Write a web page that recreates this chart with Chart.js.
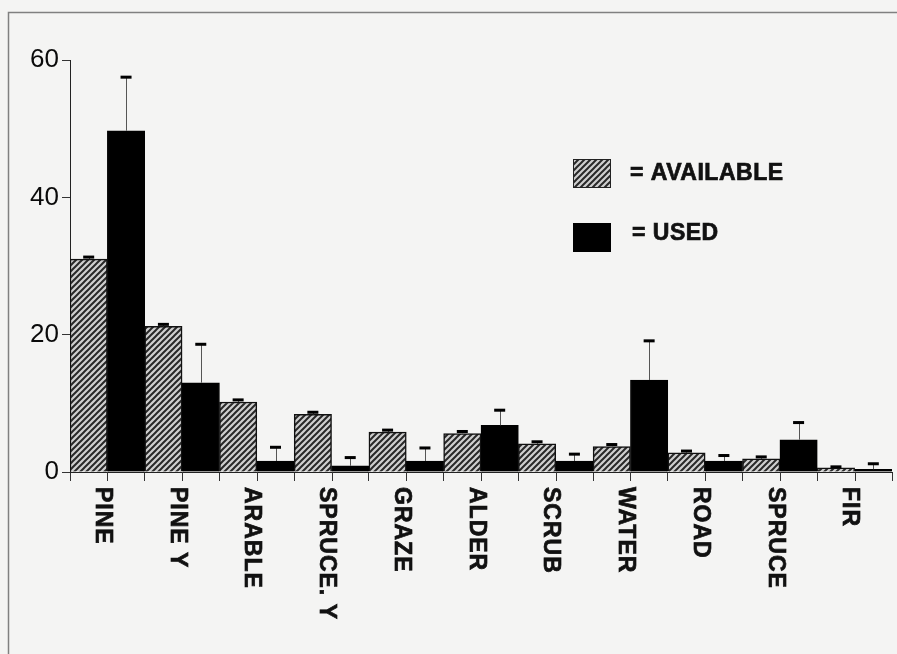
<!DOCTYPE html>
<html>
<head>
<meta charset="utf-8">
<script src="https://cdn.jsdelivr.net/npm/chart.js@4.4.1/dist/chart.umd.min.js"></script>
<style>
  body { margin: 0; background: #f4f4f3; }
  canvas { display: block; }
</style>
</head>
<body>
<canvas id="habitat-chart" width="897" height="654"></canvas>
<script>
// habitat categories and percentages
var categories = ['PINE', 'PINE Y', 'ARABLE', 'SPRUCE. Y', 'GRAZE', 'ALDER', 'SCRUB', 'WATER', 'ROAD', 'SPRUCE', 'FIR'];
var available = [31.0, 21.2, 10.2, 8.4, 5.8, 5.6, 4.1, 3.7, 2.8, 1.9, 0.6];
var availableErr = [0.3, 0.3, 0.3, 0.3, 0.3, 0.3, 0.3, 0.3, 0.25, 0.3, 0.15];
var used = [49.7, 13.0, 1.6, 0.9, 1.6, 6.8, 1.6, 13.4, 1.6, 4.7, 0.4];
var usedErr = [7.8, 5.6, 2.0, 1.2, 1.9, 2.2, 1.0, 5.7, 0.8, 2.5, 0.8];
var yMin = 0, yMax = 60, yStep = 20;

// diagonal hatch fill for the "available" bars
function makeHatch() {
  var c = document.createElement('canvas');
  c.width = 6; c.height = 6;
  var g = c.getContext('2d');
  g.fillStyle = '#cfcfcf';
  g.fillRect(0, 0, 6, 6);
  g.strokeStyle = '#282828';
  g.lineWidth = 2;
  g.beginPath();
  g.moveTo(0, 6); g.lineTo(6, 0);
  g.moveTo(-3, 3); g.lineTo(3, -3);
  g.moveTo(3, 9); g.lineTo(9, 3);
  g.stroke();
  return document.getElementById('habitat-chart').getContext('2d').createPattern(c, 'repeat');
}
var hatch = makeHatch();

var errorBars = {
  id: 'errorBars',
  afterDatasetsDraw: function(chart) {
    var ctx = chart.ctx;
    var yScale = chart.scales.y;
    var errs = [availableErr, usedErr];
    ctx.save();
    chart.data.datasets.forEach(function(ds, d) {
      var meta = chart.getDatasetMeta(d);
      meta.data.forEach(function(bar, i) {
        var top = yScale.getPixelForValue(ds.data[i] + errs[d][i]);
        ctx.strokeStyle = '#555';
        ctx.lineWidth = 1;
        ctx.beginPath();
        ctx.moveTo(Math.round(bar.x) + 0.5, bar.y);
        ctx.lineTo(Math.round(bar.x) + 0.5, top);
        ctx.stroke();
        ctx.fillStyle = '#000';
        ctx.fillRect(bar.x - 5.5, top - 1.5, 11, 3);
      });
    });
    ctx.restore();
  }
};

function heavyText(ctx, text, x, y) {
  ctx.fillText(text, x, y);
  ctx.strokeText(text, x, y);
}

var extras = {
  id: 'extras',
  afterDraw: function(chart) {
    var ctx = chart.ctx;
    var x = chart.scales.x;
    var area = chart.chartArea;
    ctx.save();
    // outer frame
    ctx.strokeStyle = '#808080';
    ctx.lineWidth = 1.5;
    ctx.beginPath();
    ctx.moveTo(8.5, chart.height);
    ctx.lineTo(8.5, 12.5);
    ctx.lineTo(chart.width, 12.5);
    ctx.stroke();
    // ticks between the two bars of a category
    ctx.strokeStyle = '#333';
    ctx.lineWidth = 1;
    categories.forEach(function(c, i) {
      var px = Math.round(x.getPixelForValue(i)) + 0.5;
      ctx.beginPath();
      ctx.moveTo(px, area.bottom);
      ctx.lineTo(px, area.bottom + 9);
      ctx.stroke();
    });
    // category labels, rotated clockwise
    ctx.fillStyle = '#111';
    ctx.strokeStyle = '#111';
    ctx.lineWidth = 0.7;
    ctx.font = 'bold 23px "Liberation Sans", Arial, sans-serif';
    ctx.letterSpacing = '1px';
    ctx.textAlign = 'left';
    ctx.textBaseline = 'middle';
    categories.forEach(function(c, i) {
      ctx.save();
      ctx.translate(x.getPixelForValue(i) - 5, area.bottom + 15);
      ctx.rotate(Math.PI / 2);
      heavyText(ctx, c, 0, 0);
      ctx.restore();
    });
    // legend
    ctx.letterSpacing = '0.5px';
    ctx.font = 'bold 23px "Liberation Sans", Arial, sans-serif';
    ctx.fillStyle = hatch;
    ctx.fillRect(573, 159, 38, 29);
    ctx.strokeStyle = '#222';
    ctx.lineWidth = 1;
    ctx.strokeRect(573.5, 159.5, 37, 28);
    ctx.fillStyle = '#000';
    ctx.fillRect(573, 223, 38, 29);
    ctx.fillStyle = '#111';
    ctx.strokeStyle = '#111';
    ctx.lineWidth = 0.7;
    heavyText(ctx, '= AVAILABLE', 630, 174);
    heavyText(ctx, '= USED', 632, 234);
    ctx.restore();
  }
};

var habitatChart = new Chart(document.getElementById('habitat-chart'), {
  type: 'bar',
  data: {
    labels: categories,
    datasets: [
      {
        label: 'AVAILABLE',
        data: available,
        backgroundColor: hatch,
        borderColor: '#111',
        borderWidth: 1.5
      },
      {
        label: 'USED',
        data: used,
        backgroundColor: '#000',
        borderColor: '#000',
        borderWidth: 1
      }
    ]
  },
  options: {
    responsive: false,
    animation: false,
    devicePixelRatio: 1,
    layout: { padding: { left: 8, top: 60, right: 5, bottom: 0 } },
    plugins: {
      legend: { display: false },
      tooltip: { enabled: false }
    },
    datasets: { bar: { categoryPercentage: 1, barPercentage: 1 } },
    scales: {
      x: {
        grid: { display: true, offset: true, drawOnChartArea: false, drawTicks: true, tickLength: 9, color: '#333' },
        border: { display: true, color: '#222', width: 1 },
        ticks: { display: false },
        afterFit: function(s) { s.height = 182; }
      },
      y: {
        min: yMin,
        max: yMax,
        grid: { display: true, drawOnChartArea: false, drawTicks: true, tickLength: 8, color: '#333' },
        border: { display: true, color: '#222', width: 1 },
        ticks: {
          stepSize: yStep,
          padding: 3,
          color: '#0a0a0a',
          font: { family: '"Liberation Sans", Arial, sans-serif', size: 26 }
        },
        afterFit: function(s) { s.width = 62; }
      }
    }
  },
  plugins: [errorBars, extras]
});
</script>
</body>
</html>
